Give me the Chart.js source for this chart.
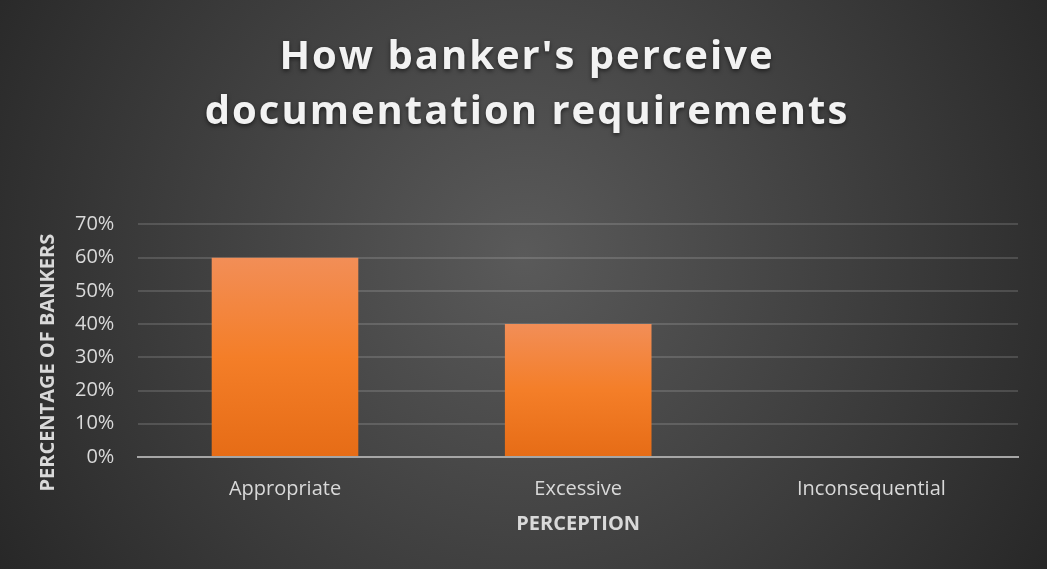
<!DOCTYPE html>
<html lang="en">
<head>
  <meta charset="UTF-8"/>
  <title>How banker's perceive documentation requirements</title>
  <script src="https://cdn.jsdelivr.net/npm/chart.js@4.4.1/dist/chart.umd.min.js"></script>
  <style>
    html, body { margin: 0; padding: 0; background: #2b2b2b; }
    #wrap { width: 1047px; height: 569px; }
  </style>
</head>
<body>
  <div id="wrap"><canvas id="chart" width="1047" height="569"></canvas></div>
  <script>
    const categories = ['Appropriate', 'Excessive', 'Inconsequential'];
    const shares = [0.60, 0.40, 0];
    const yTicks = [0, 0.1, 0.2, 0.3, 0.4, 0.5, 0.6, 0.7];
    const titleLines = ["How banker's perceive", 'documentation requirements'];

    // dark radial background like the Excel style
    const backdrop = {
      id: 'backdrop',
      beforeDraw(chart) {
        const { ctx, width, height } = chart;
        ctx.save();
        const g = ctx.createRadialGradient(width * 0.5, height * 0.45, 0, width * 0.5, height * 0.45, width * 0.6);
        g.addColorStop(0, '#5a5a5a');
        g.addColorStop(1, '#262626');
        ctx.fillStyle = g;
        ctx.fillRect(0, 0, width, height);
        ctx.restore();

        // spaced-out title with a soft shadow
        const tb = chart.titleBlock;
        if (tb && !tb._spaced) {
          const orig = tb.draw;
          tb.draw = function () {
            const c = this.ctx;
            c.save();
            c.letterSpacing = '2px';
            c.shadowColor = 'rgba(0,0,0,0.55)';
            c.shadowBlur = 4;
            c.shadowOffsetY = 2;
            orig.apply(this, arguments);
            c.restore();
          };
          tb._spaced = true;
        }

        // excel centres the y title a bit lower than the plot area
        const ys = chart.scales.y;
        if (ys && !ys._shifted) {
          const origTitle = ys.drawTitle;
          ys.drawTitle = function () {
            this.ctx.save();
            this.ctx.translate(0, 22);
            origTitle.apply(this, arguments);
            this.ctx.restore();
          };
          ys._shifted = true;
        }
      }
    };

    function barFill(c) {
      const chart = c.chart;
      if (!chart.chartArea || c.type !== 'data') return '#f37c2a';
      const y = chart.scales.y;
      const top = y.getPixelForValue(c.raw);
      const base = y.getPixelForValue(0);
      if (base - top < 1) return '#f37c2a';
      const g = chart.ctx.createLinearGradient(0, top, 0, base);
      g.addColorStop(0, '#f28e57');
      g.addColorStop(0.5, '#f47e28');
      g.addColorStop(1, '#e66c16');
      return g;
    }

    new Chart(document.getElementById('chart'), {
      type: 'bar',
      data: {
        labels: categories,
        datasets: [{
          data: shares,
          backgroundColor: barFill,
          borderWidth: 0,
          barPercentage: 0.5,
          categoryPercentage: 1
        }]
      },
      options: {
        responsive: false,
        animation: false,
        layout: { padding: { top: 30, left: 36, right: 29, bottom: 33 } },
        plugins: {
          legend: { display: false },
          tooltip: { enabled: false },
          title: {
            display: true,
            text: titleLines,
            color: '#f2f2f2',
            font: { family: 'Open Sans', size: 40, weight: 'bold', lineHeight: 1.38 },
            padding: { top: 0, bottom: 84 }
          }
        },
        scales: {
          x: {
            offset: true,
            grid: { display: false, drawTicks: false },
            border: { display: true, color: '#a6a6a6', width: 2 },
            ticks: {
              color: '#d9d9d9',
              font: { family: 'Open Sans', size: 20 },
              padding: 20
            },
            title: {
              display: true,
              text: 'PERCEPTION',
              color: '#d9d9d9',
              font: { family: 'Open Sans', size: 20, weight: 'bold' },
              padding: { top: -9, bottom: 0 }
            }
          },
          y: {
            min: 0,
            max: 0.7,
            afterBuildTicks(scale) { scale.ticks = yTicks.map(v => ({ value: v })); },
            grid: { color: 'rgba(255,255,255,0.14)', lineWidth: 2, drawTicks: false },
            border: { display: false },
            ticks: {
              color: '#d9d9d9',
              font: { family: 'Open Sans', size: 20 },
              padding: 24,
              callback: v => Math.round(v * 100) + '%'
            },
            title: {
              display: true,
              text: 'PERCENTAGE OF BANKERS',
              color: '#d9d9d9',
              font: { family: 'Open Sans', size: 20, weight: 'bold' },
              padding: { top: 0, bottom: -9 }
            }
          }
        }
      },
      plugins: [backdrop]
    });
  </script>
</body>
</html>
